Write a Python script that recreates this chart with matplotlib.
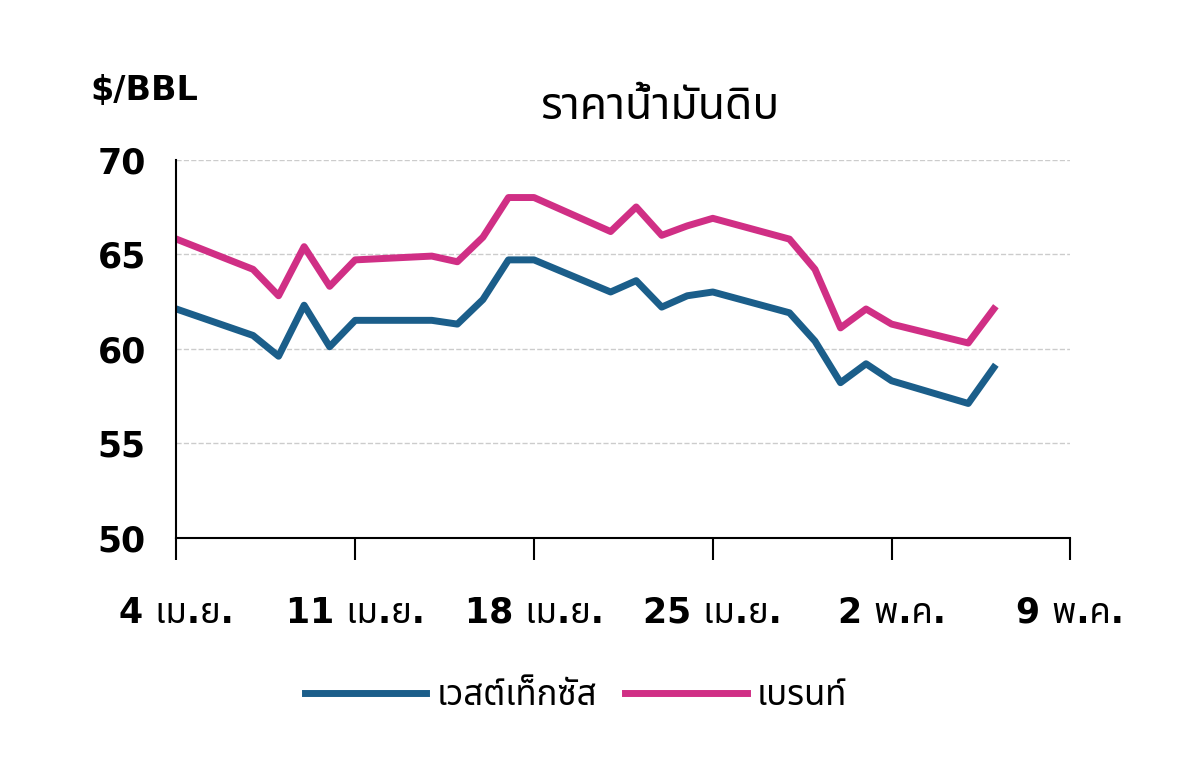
import matplotlib
matplotlib.use("Agg")
import matplotlib.pyplot as plt
from matplotlib import font_manager
import logging
logging.getLogger('matplotlib.font_manager').setLevel(logging.ERROR)

avail = {f.name for f in font_manager.fontManager.ttflist}
cands = ['Noto Sans Thai', 'Noto Sans Thai UI', 'Loma', 'Garuda', 'Tlwg Typo', 'Norasi', 'Noto Sans', 'Liberation Sans']
thai = [f for f in cands if f in avail]
fams = ['DejaVu Sans'] + thai
plt.rcParams['font.family'] = fams

days = [0, 3, 4, 5, 6, 7, 10, 11, 12, 13, 14, 17, 18, 19, 20, 21, 24, 25, 26, 27, 28, 31, 32]
wti = [62.1, 60.7, 59.6, 62.3, 60.1, 61.5, 61.5, 61.3, 62.6, 64.7, 64.7, 63.0, 63.6, 62.2, 62.8, 63.0,
       61.9, 60.4, 58.2, 59.2, 58.3, 57.1, 59.0]
brent = [65.8, 64.2, 62.8, 65.4, 63.3, 64.7, 64.9, 64.6, 65.9, 68.0, 68.0, 66.2, 67.5, 66.0, 66.5, 66.9,
         65.8, 64.2, 61.1, 62.1, 61.3, 60.3, 62.1]
tick_days = [0, 7, 14, 21, 28, 35]
tick_labels = ['4 เม.ย.', '11 เม.ย.', '18 เม.ย.', '25 เม.ย.', '2 พ.ค.', '9 พ.ค.']

fig = plt.figure(figsize=(12, 7.68), dpi=100)
ax = fig.add_axes([0.147, 0.30, 0.745, 0.492])
ax.plot(days, wti, color='#1b5e8a', lw=5, label='เวสต์เท็กซัส')
ax.plot(days, brent, color='#d02f85', lw=5, label='เบรนท์')
ax.set_xlim(0, 35)
ax.set_ylim(50, 70)
ax.set_yticks([50, 55, 60, 65, 70])
ax.set_xticks(tick_days)
ax.set_xticklabels(tick_labels)
ax.tick_params(axis='x', direction='out', length=16, width=1.5, pad=26, labelsize=25)
ax.tick_params(axis='y', length=0, pad=22, labelsize=25)
for lab in ax.get_xticklabels() + ax.get_yticklabels():
    lab.set_fontweight('bold')
ax.grid(axis='y', color='#cccccc', ls='--', lw=1)
for s in ['top', 'right']:
    ax.spines[s].set_visible(False)
ax.spines['left'].set_linewidth(1.5)
ax.spines['bottom'].set_linewidth(1.5)
fig.text(0.075, 0.87, '$/BBL', fontsize=24, fontweight='bold')
fig.text(0.55, 0.845, 'ราคาน้ำมันดิบ', fontsize=32, fontweight='bold', ha='center')
fig.legend(loc='center', bbox_to_anchor=(0.48, 0.095), ncol=2, frameon=False,
           prop={'size': 25, 'weight': 'bold'}, handlelength=3.5, handletextpad=0.3, columnspacing=0.8)
fig.savefig('out.png', dpi=100)
